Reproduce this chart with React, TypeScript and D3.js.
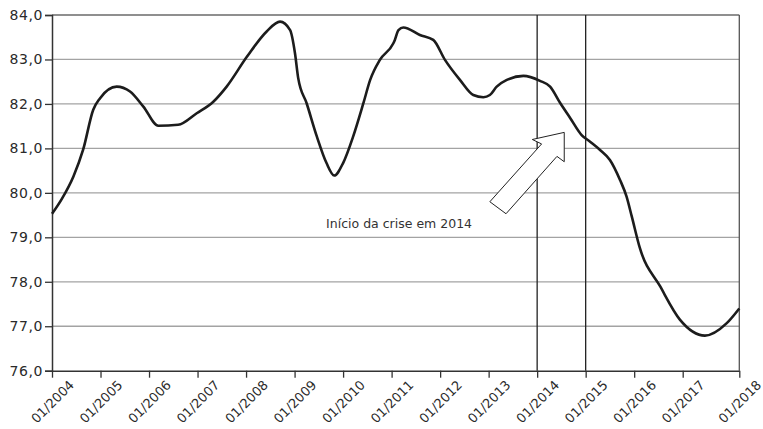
import React, { useRef, useEffect } from 'react';
import * as d3 from 'd3';

// months counted from 01/2004
const months = [
  0, 2.4, 5.3, 7.7, 10.2, 11.9, 16.0, 19.3, 22.6, 26.3, 31.2, 35.8, 39.9, 43.2,
  48.2, 53.1, 56.4, 58.9, 60.1, 60.9, 63.0, 65.5, 67.9, 69.8, 72.0, 74.5, 77.0,
  78.7, 81.1, 84.4, 84.8, 85.7, 86.9, 91.0, 94.3, 97.2, 100.9, 104.2, 106.7,
  108.3, 110.0, 112.5, 116.6, 120.7, 123.2, 125.7, 128.2, 131.0, 133.1, 135.5,
  138.0, 140.5, 142.1, 143.4, 145.4, 150.4, 155.3, 161.5, 166.9, 170,
];
const values = [
  79.53, 79.86, 80.37, 80.97, 81.87, 82.13, 82.39, 82.28, 81.94, 81.51, 81.53,
  81.79, 82.05, 82.39, 83.06, 83.63, 83.85, 83.66, 83.14, 82.58, 82.01, 81.27,
  80.67, 80.39, 80.67, 81.27, 82.01, 82.54, 82.99, 83.36, 83.44, 83.66, 83.72,
  83.55, 83.44, 82.99, 82.54, 82.2, 82.15, 82.2, 82.39, 82.54, 82.63, 82.52,
  82.39, 82.02, 81.68, 81.3, 81.15, 80.97, 80.74, 80.29, 79.92, 79.47, 78.76,
  77.9, 77.15, 76.79, 77.07, 77.4,
];

const yTicks = [76, 77, 78, 79, 80, 81, 82, 83, 84];
const xTickLabels = [
  '01/2004', '01/2005', '01/2006', '01/2007', '01/2008', '01/2009', '01/2010',
  '01/2011', '01/2012', '01/2013', '01/2014', '01/2015', '01/2016', '01/2017',
  '01/2018',
];
const xTickMonths = [0, 12, 24, 36, 48, 60, 72, 84, 96, 108, 120, 132, 144, 156, 170];
const crisisMonths = [120, 132];

const annotationText = 'Início da crise em 2014';
const annotationAt = [67.8, 79.22];
// block arrow outline (month, value)
const arrowMonths = [126.7, 118.8, 121.1, 108.3, 112.3, 124.9, 126.7];
const arrowValues = [81.36, 81.2, 81.1, 79.8, 79.53, 80.82, 80.7];

const W = 763;
const H = 429;
const margin = { top: 15, right: 23.7, bottom: 58.3, left: 52 };
const font = '"DejaVu Sans", Verdana, sans-serif';

const App: React.FC = () => {
  const svgRef = useRef<SVGSVGElement>(null);

  useEffect(() => {
    const svg = d3.select(svgRef.current as SVGSVGElement);
    svg.selectAll('*').remove();

    const x = d3
      .scaleLinear()
      .domain([0, 170])
      .range([margin.left, W - margin.right]);
    const y = d3
      .scaleLinear()
      .domain([76, 84])
      .range([H - margin.bottom, margin.top]);

    const fmt = (d: number) => d3.format('.1f')(d).replace('.', ',');

    // horizontal grid
    svg
      .append('g')
      .selectAll('line')
      .data(yTicks.filter(d => d > 76))
      .join('line')
      .attr('x1', x(0))
      .attr('x2', x(170))
      .attr('y1', d => y(d))
      .attr('y2', d => y(d))
      .attr('stroke', d => (d === 84 ? '#6a6a6a' : '#a3a3a3'))
      .attr('stroke-width', d => (d === 84 ? 1.6 : 1.3));

    // right frame
    svg
      .append('line')
      .attr('x1', x(170))
      .attr('x2', x(170))
      .attr('y1', y(84))
      .attr('y2', y(76))
      .attr('stroke', '#555')
      .attr('stroke-width', 1.3);

    // crisis markers
    svg
      .append('g')
      .selectAll('line')
      .data(crisisMonths)
      .join('line')
      .attr('x1', d => x(d))
      .attr('x2', d => x(d))
      .attr('y1', y(84))
      .attr('y2', y(76))
      .attr('stroke', '#222')
      .attr('stroke-width', 1.3);

    // y axis
    const gy = svg
      .append('g')
      .attr('transform', `translate(${margin.left},0)`)
      .call(
        d3
          .axisLeft(y)
          .tickValues(yTicks)
          .tickSize(7)
          .tickPadding(2)
          .tickFormat(d => fmt(d as number)),
      );
    gy.select('.domain').attr('stroke', '#333').attr('stroke-width', 1.5);
    gy.selectAll('.tick line').attr('stroke', '#333').attr('stroke-width', 1.3);
    gy.selectAll('.tick text')
      .attr('fill', '#2a2a2a')
      .style('font-family', font)
      .style('font-size', '14px')
      .style('letter-spacing', '0.6px');

    // x axis
    const gx = svg
      .append('g')
      .attr('transform', `translate(0,${H - margin.bottom})`)
      .call(
        d3
          .axisBottom(x)
          .tickValues(xTickMonths)
          .tickSize(7)
          .tickSizeOuter(0)
          .tickFormat((_, i) => xTickLabels[i]),
      );
    gx.select('.domain').attr('stroke', '#333').attr('stroke-width', 1.5);
    gx.selectAll('.tick line').attr('stroke', '#333').attr('stroke-width', 1.3);
    gx.selectAll('.tick text')
      .attr('fill', '#2a2a2a')
      .attr('x', 0)
      .attr('y', 0)
      .attr('dy', '0.35em')
      .attr('text-anchor', 'middle')
      .attr('transform', 'translate(0,31) rotate(-45)')
      .style('font-family', font)
      .style('font-size', '13px');

    // the series
    const line = d3
      .line<number>()
      .x((_, i) => x(months[i]))
      .y(d => y(d))
      .curve(d3.curveMonotoneX);
    svg
      .append('path')
      .datum(values)
      .attr('d', line)
      .attr('fill', 'none')
      .attr('stroke', '#1c1c1c')
      .attr('stroke-width', 2.6)
      .attr('stroke-linejoin', 'round');

    // annotation arrow
    svg
      .append('polygon')
      .attr(
        'points',
        arrowMonths.map((m, i) => `${x(m)},${y(arrowValues[i])}`).join(' '),
      )
      .attr('fill', '#fff')
      .attr('stroke', '#222')
      .attr('stroke-width', 1);

    svg
      .append('text')
      .attr('x', x(annotationAt[0]))
      .attr('y', y(annotationAt[1]))
      .attr('fill', '#333')
      .style('font-family', font)
      .style('font-size', '12.5px')
      .text(annotationText);
  }, []);

  return (
    <svg
      ref={svgRef}
      width={W}
      height={H}
      style={{ position: 'absolute', left: 0, top: 0, background: '#fff' }}
    />
  );
};

export default App;
